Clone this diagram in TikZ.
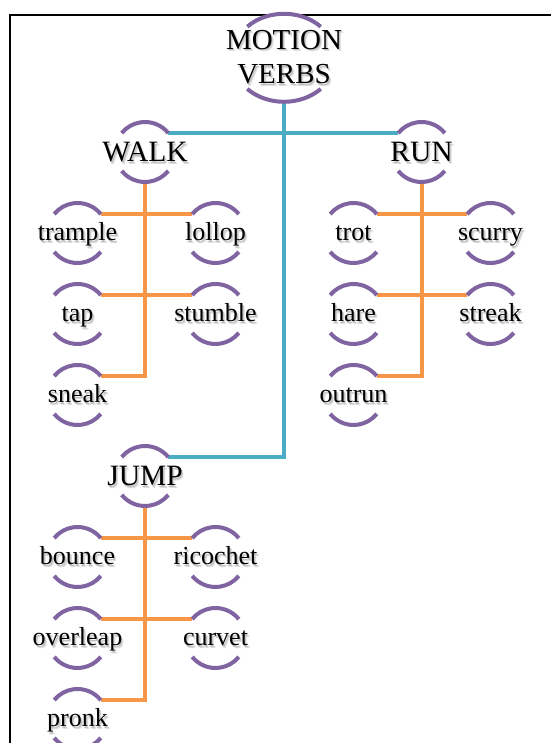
\documentclass[tikz,border=0pt]{standalone}
\usepackage{fontspec}
\setmainfont{Liberation Serif}
\usetikzlibrary{shapes.geometric}

\definecolor{arcpurple}{HTML}{8064A2}
\definecolor{linkblue}{HTML}{4BACC6}
\definecolor{linkorange}{HTML}{F79646}

% text with a soft grey drop shadow, centred on a zero-width box
\newcommand\shadowed[1]{%
  \makebox[0pt]{\raisebox{-2.6pt}{\hspace*{4.4pt}\textcolor{black!13}{#1}}}%
  \makebox[0pt]{\raisebox{-1.5pt}{\hspace*{2.4pt}\textcolor{black!24}{#1}}}%
  \makebox[0pt]{#1}}
\newcommand\leaflabel[1]{\raisebox{-8pt}[0pt][0pt]{\shadowed{#1}}}
\newcommand\branchlabel[1]{\raisebox{-10pt}[0pt][0pt]{\shadowed{#1}}}

% the two bracket arcs above and below a node: name, x radius, y radius, angle
\newcommand\capsarcs[4]{%
  \draw[arcline] ([shift={(#4:#2pt and #3pt)}]#1.center)
    arc[start angle=#4, end angle=180-#4, x radius=#2pt, y radius=#3pt];
  \draw[arcline] ([shift={(180+#4:#2pt and #3pt)}]#1.center)
    arc[start angle=180+#4, end angle=360-#4, x radius=#2pt, y radius=#3pt];}

\tikzset{
  arcline/.style={draw=arcpurple, line width=4pt},
  blueline/.style={draw=linkblue, line width=4.2pt},
  orangeline/.style={draw=linkorange, line width=4pt},
  leaf/.style={circle, minimum size=60pt, inner sep=0pt, outer sep=0pt,
    font=\fontsize{26}{31}\selectfont},
  branch/.style={circle, minimum size=60pt, inner sep=0pt, outer sep=0pt,
    font=\fontsize{29.5}{35}\selectfont},
  rootbox/.style={ellipse, minimum width=104pt, minimum height=88pt,
    inner sep=0pt, outer sep=0pt, font=\fontsize{29}{34.7}\selectfont},
}

\begin{document}
\begin{tikzpicture}[x=1pt,y=1pt]
\useasboundingbox (0,0) rectangle (550,743);
\fill[white] (0,0) rectangle (550,743);

% page frame
\draw[line width=2pt] (9.8,-5) -- (9.8,728) -- (560,728);

% root
\node[rootbox] (root) at (284,685.2)
  {\raisebox{-26.2pt}[0pt][0pt]{\shadowed{\begin{tabular}[b]{@{}c@{}}MOTION\\VERBS\end{tabular}}}};

% second level
\node[branch] (walk) at (145,591)   {\branchlabel{WALK}};
\node[branch] (run)  at (421.5,591) {\branchlabel{RUN}};
\node[branch] (jump) at (145,267)   {\branchlabel{JUMP}};

% walk
\node[leaf] (trample) at (77.5,510)  {\leaflabel{trample}};
\node[leaf] (lollop)  at (215.5,510) {\leaflabel{lollop}};
\node[leaf] (tap)     at (77.5,429)  {\leaflabel{tap}};
\node[leaf] (stumble) at (215.5,429) {\leaflabel{stumble}};
\node[leaf] (sneak)   at (77.5,348)  {\leaflabel{sneak}};

% run
\node[leaf] (trot)   at (353.5,510) {\leaflabel{trot}};
\node[leaf] (scurry) at (490.5,510) {\leaflabel{scurry}};
\node[leaf] (hare)   at (353.5,429) {\leaflabel{hare}};
\node[leaf] (streak) at (490.5,429) {\leaflabel{streak}};
\node[leaf] (outrun) at (353.5,348) {\leaflabel{outrun}};

% jump
\node[leaf] (bounce)   at (77.5,186)  {\leaflabel{bounce}};
\node[leaf] (ricochet) at (215.5,186) {\leaflabel{ricochet}};
\node[leaf] (overleap) at (77.5,105)  {\leaflabel{overleap}};
\node[leaf] (curvet)   at (215.5,105) {\leaflabel{curvet}};
\node[leaf] (pronk)    at (77.5,24)   {\leaflabel{pronk}};

% connectors from the root
\draw[blueline] (root.south) |- (walk.39);
\draw[blueline] (root.south) |- (run.141);
\draw[blueline] (root.south) |- (jump.39);

% connectors inside each group
\foreach \p/\l/\r in {walk/trample/lollop, walk/tap/stumble,
                      run/trot/scurry, run/hare/streak,
                      jump/bounce/ricochet, jump/overleap/curvet} {
  \draw[orangeline] (\p.south) |- (\l.39);
  \draw[orangeline] (\p.south) |- (\r.141);
}
\draw[orangeline] (walk.south) |- (sneak.39);
\draw[orangeline] (run.south)  |- (outrun.39);
\draw[orangeline] (jump.south) |- (pronk.39);

% bracket arcs
\capsarcs{root}{52}{44}{45}
\foreach \n in {walk,run,jump,trample,lollop,tap,stumble,sneak,
                trot,scurry,hare,streak,outrun,
                bounce,ricochet,overleap,curvet,pronk} {
  \capsarcs{\n}{30}{30}{39}
}
\end{tikzpicture}
\end{document}
